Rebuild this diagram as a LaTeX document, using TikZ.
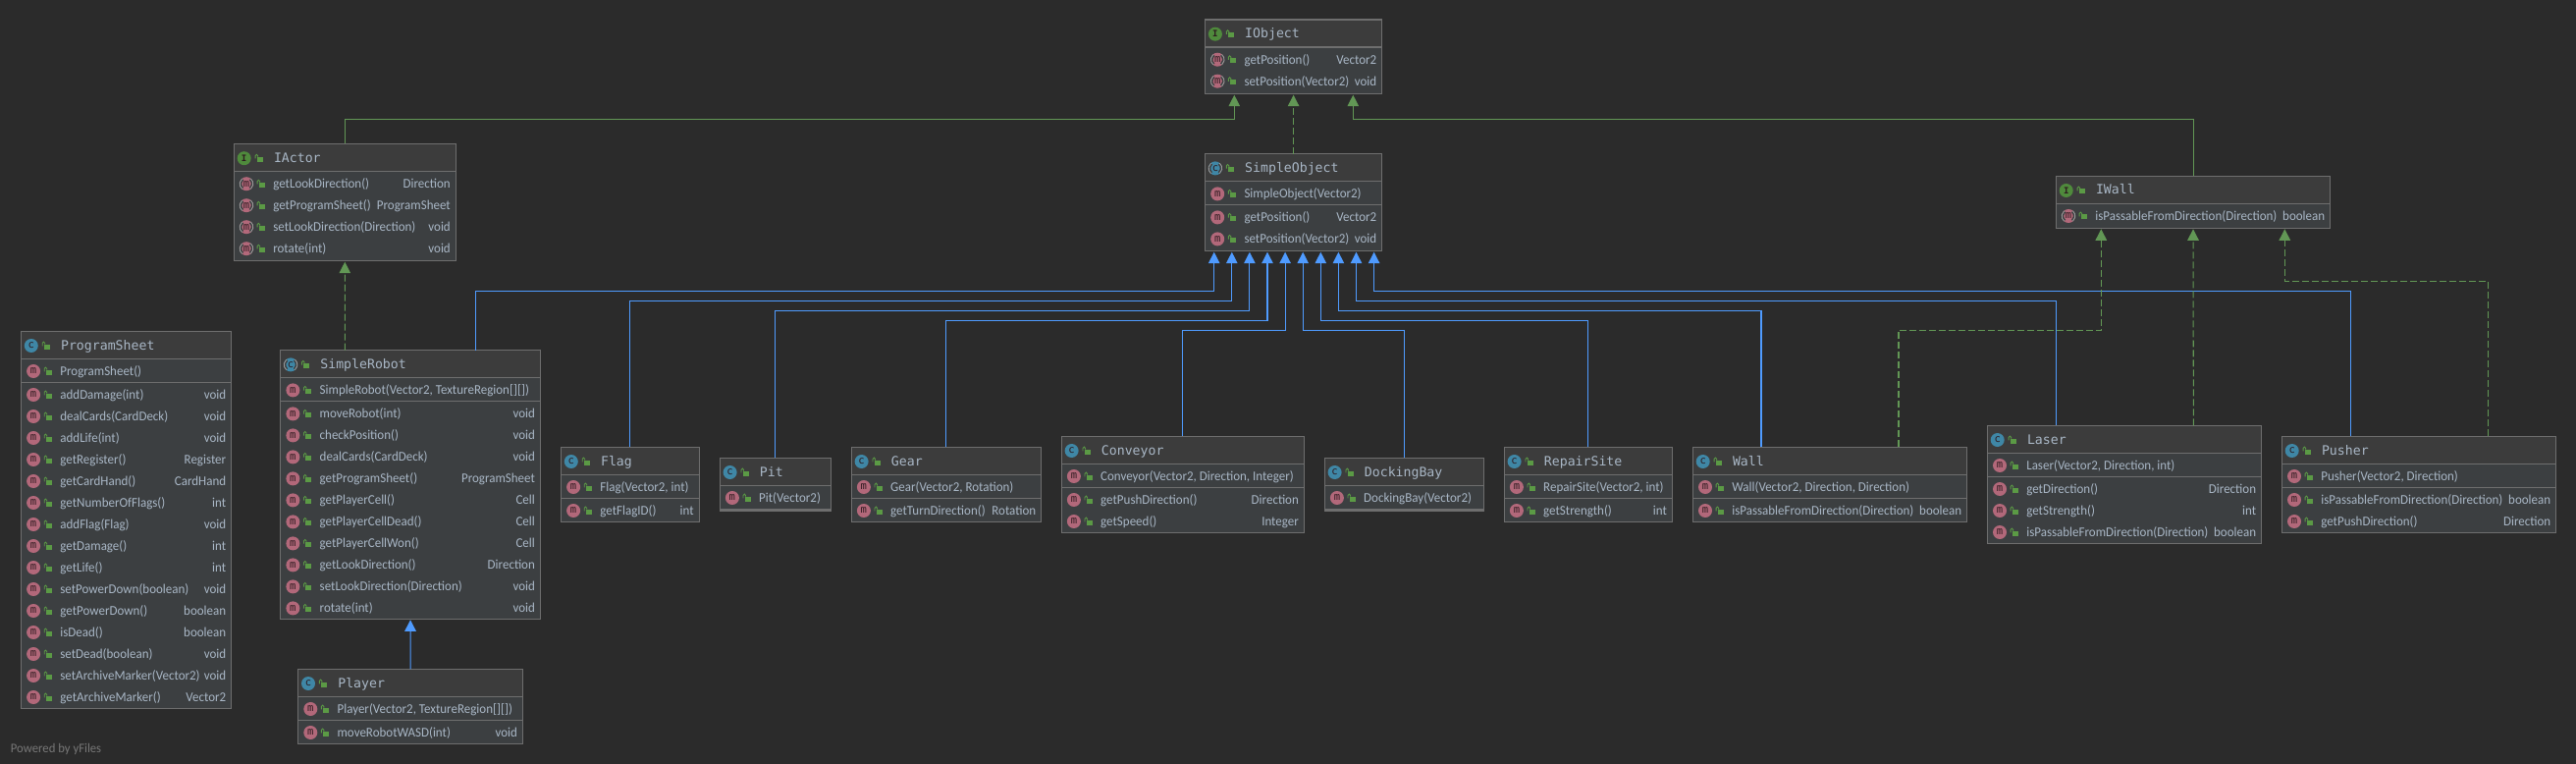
\documentclass[tikz,border=0pt]{standalone}
\usepackage{fontspec}
\setmainfont[FakeStretch=0.955]{Carlito}
\newfontfamily\titlefont{DejaVu Sans Mono}
\usetikzlibrary{arrows.meta}
\definecolor{bgc}{HTML}{2B2B2B}
\definecolor{hdrc}{HTML}{3C3C3C}
\definecolor{bodyc}{HTML}{3C3F41}
\definecolor{borderc}{HTML}{6E6E6E}
\definecolor{txtc}{HTML}{A9B7C6}
\definecolor{mc}{HTML}{B2687A}
\definecolor{cc}{HTML}{3F87A6}
\definecolor{ic}{HTML}{4F8A3C}
\definecolor{lockc}{HTML}{5B9A45}
\definecolor{bluec}{HTML}{4F9BFF}
\definecolor{greenc}{HTML}{629755}
\definecolor{ringc}{HTML}{9A9A9A}
\newcounter{tn}
\tikzset{
  umlbody/.style={rectangle,draw=borderc,fill=bodyc,line width=1.2pt,inner sep=0pt,outer sep=0pt},
  hdr/.style={fill=hdrc},
  sepl/.style={draw=borderc,line width=1.1pt},
  mtext/.style={text=txtc,font=\fontsize{13.6}{15}\selectfont,inner sep=0pt,outer sep=0pt},
  ttext/.style={text=txtc,font=\titlefont\fontsize{13.2}{15}\selectfont,inner sep=0pt,outer sep=0pt,anchor=base west},
  iconbase/.style={circle,minimum size=14pt,inner sep=0pt,outer sep=0pt,text=black!75!mc,font=\titlefont\fontsize{10.5}{10}\selectfont},
  iconm/.style={iconbase,fill=mc},
  iconc/.style={iconbase,fill=cc},
  iconi/.style={iconbase,fill=ic,font=\titlefont\bfseries\fontsize{9}{9}\selectfont},
  inh/.style={draw=bluec,line width=1.05pt,-{Triangle[length=11.5pt,width=11.5pt,fill=bluec]}},
  impl/.style={draw=greenc,line width=1.05pt,-{Triangle[length=11.5pt,width=11.5pt,fill=greenc]}},
  impld/.style={impl,dash pattern=on 7pt off 3pt},
}
\newcommand{\lockat}[2]{%
  \begin{scope}[shift={(#1,#2)}]
    \fill[lockc] (-2.7,-1.5) rectangle (3.3,3.5);
    \draw[lockc,line width=.9pt] (-4.2,0.3) -- (-4.2,-2.6) .. controls (-4.2,-4.3) and (-1.7,-4.3) .. (-1.7,-2.6) -- (-1.7,-1.5);
  \end{scope}}
\newcommand{\ringat}[2]{%
  \begin{scope}[shift={(#1,#2)}]
    \draw[bodyc,line width=2.2pt] (130:5.9) arc[start angle=130,end angle=230,radius=5.9];
    \draw[bodyc,line width=2.2pt] (-50:5.9) arc[start angle=-50,end angle=50,radius=5.9];
    \draw[ringc,line width=.9pt] (130:6.8) arc[start angle=130,end angle=230,radius=6.8];
    \draw[ringc,line width=.9pt] (-50:6.8) arc[start angle=-50,end angle=50,radius=6.8];
  \end{scope}}
% name, kind (c, a, I), left, top, right, bottom, title
\newcommand{\umlbox}[7]{%
  \def\curname{#1}\def\curkind{#2}\def\curL{#3}\def\curR{#5}%
  \pgfmathsetmacro{\curW}{#5-#3}\pgfmathsetmacro{\curH}{#6-#4}%
  \pgfmathsetmacro{\curCx}{(#3+#5)/2}\pgfmathsetmacro{\curCy}{(#4+#6)/2}%
  \node[umlbody,minimum width=\curW pt,minimum height=\curH pt] (#1) at (\curCx,\curCy) {};
  \fill[hdr] ([xshift=.6pt,yshift=-.6pt]#1.north west) rectangle ([xshift=-.6pt,yshift=-28pt]#1.north east);
  \draw[sepl] ([yshift=-28pt]#1.north west) -- ([yshift=-28pt]#1.north east);
  \pgfmathsetmacro{\curY}{#4+28}%
  \pgfmathsetmacro{\ix}{#3+10.4}\pgfmathsetmacro{\iy}{#4+14.7}%
  \pgfmathsetmacro{\lx}{#3+26}\pgfmathsetmacro{\tx}{#3+40.7}\pgfmathsetmacro{\ty}{#4+18.7}%
  \if #2I
    \node[iconi] (#1-icon) at (\ix,\iy) {I};
  \else
    \node[iconc] (#1-icon) at (\ix,\iy) {c};
    \if #2a \ringat{\ix}{\iy}\fi
  \fi
  \lockat{\lx}{\iy}
  \node[ttext] (#1-title) at (\tx,\ty) {#7};
}
\newcommand{\rowicons}{%
  \stepcounter{tn}%
  \pgfmathsetmacro{\rc}{\curY+12.7}\pgfmathsetmacro{\rb}{\rc+4.5}%
  \pgfmathsetmacro{\mx}{\curL+12.7}\pgfmathsetmacro{\lx}{\curL+28}%
  \pgfmathsetmacro{\tx}{\curL+40}\pgfmathsetmacro{\rx}{\curR-5.5}%
  \node[iconm] (\curname-m\arabic{tn}) at (\mx,\rc) {m};
  \if \curkind I \ringat{\mx}{\rc}\fi
  \lockat{\lx}{\rc}
}
\newcommand{\ctor}[1]{%
  \rowicons
  \node[mtext,anchor=base west] (\curname-t\arabic{tn}) at (\tx,\rb) {#1};
  \pgfmathsetmacro{\curY}{\curY+24}%
  \draw[sepl] (\curL,\curY) -- (\curR,\curY);
}
\newcommand{\method}[2]{%
  \rowicons
  \node[mtext,anchor=base west] (\curname-t\arabic{tn}) at (\tx,\rb) {#1};
  \node[mtext,anchor=base east] (\curname-r\arabic{tn}) at (\rx,\rb) {#2};
  \pgfmathsetmacro{\curY}{\curY+22}%
}
% style, source, y of the horizontal run, target
\newcommand{\conn}[4]{%
  \coordinate (s) at (#2);\coordinate (e) at (#4);
  \draw[#1] (s) -- (s |- 0,#3) -- (e |- 0,#3) -- (e);
}
\begin{document}
\begin{tikzpicture}[x=1pt,y=-1pt]
\useasboundingbox (0,0) rectangle (2624,778);
\fill[bgc] (0,0) rectangle (2624,778);

\umlbox{iobject}{I}{1227.5}{20}{1407.7}{95.7}{IObject}
\method{getPosition()}{Vector2}
\method{setPosition(Vector2)}{void}

\umlbox{so}{a}{1227.5}{156.7}{1407.7}{255.7}{SimpleObject}
\ctor{SimpleObject(Vector2)}
\method{getPosition()}{Vector2}
\method{setPosition(Vector2)}{void}

\umlbox{iactor}{I}{238.3}{146.5}{464.3}{265.7}{IActor}
\method{getLookDirection()}{Direction}
\method{getProgramSheet()}{ProgramSheet}
\method{setLookDirection(Direction)}{void}
\method{rotate(int)}{void}

\umlbox{iwall}{I}{2094.3}{179.3}{2373.7}{232.3}{IWall}
\method{isPassableFromDirection(Direction)}{boolean}

\umlbox{sheet}{c}{21.4}{337.3}{235.7}{721.7}{ProgramSheet}
\ctor{ProgramSheet()}
\method{addDamage(int)}{void}
\method{dealCards(CardDeck)}{void}
\method{addLife(int)}{void}
\method{getRegister()}{Register}
\method{getCardHand()}{CardHand}
\method{getNumberOfFlags()}{int}
\method{addFlag(Flag)}{void}
\method{getDamage()}{int}
\method{getLife()}{int}
\method{setPowerDown(boolean)}{void}
\method{getPowerDown()}{boolean}
\method{isDead()}{boolean}
\method{setDead(boolean)}{void}
\method{setArchiveMarker(Vector2)}{void}
\method{getArchiveMarker()}{Vector2}

\umlbox{robot}{a}{285.7}{356.7}{550.4}{630.3}{SimpleRobot}
\ctor{SimpleRobot(Vector2, TextureRegion[][])}
\method{moveRobot(int)}{void}
\method{checkPosition()}{void}
\method{dealCards(CardDeck)}{void}
\method{getProgramSheet()}{ProgramSheet}
\method{getPlayerCell()}{Cell}
\method{getPlayerCellDead()}{Cell}
\method{getPlayerCellWon()}{Cell}
\method{getLookDirection()}{Direction}
\method{setLookDirection(Direction)}{void}
\method{rotate(int)}{void}

\umlbox{player}{c}{303.6}{681.3}{532.5}{757.3}{Player}
\ctor{Player(Vector2, TextureRegion[][])}
\method{moveRobotWASD(int)}{void}

\umlbox{flag}{c}{571.4}{455.3}{712.2}{531.7}{Flag}
\ctor{Flag(Vector2, int)}
\method{getFlagID()}{int}

\umlbox{pit}{c}{733.2}{466.3}{846.5}{520}{Pit}
\ctor{Pit(Vector2)}

\umlbox{gear}{c}{867.2}{455.3}{1060.7}{531.7}{Gear}
\ctor{Gear(Vector2, Rotation)}
\method{getTurnDirection()}{Rotation}

\umlbox{conveyor}{c}{1081.2}{444.3}{1328.4}{542.7}{Conveyor}
\ctor{Conveyor(Vector2, Direction, Integer)}
\method{getPushDirection()}{Direction}
\method{getSpeed()}{Integer}

\umlbox{dock}{c}{1349.2}{466.3}{1511.4}{520}{DockingBay}
\ctor{DockingBay(Vector2)}

\umlbox{repair}{c}{1532.2}{455.3}{1703.5}{531.7}{RepairSite}
\ctor{RepairSite(Vector2, int)}
\method{getStrength()}{int}

\umlbox{wall}{c}{1724.3}{455.3}{2003.7}{531.3}{Wall}
\ctor{Wall(Vector2, Direction, Direction)}
\method{isPassableFromDirection(Direction)}{boolean}

\umlbox{laser}{c}{2024.3}{433.3}{2303.6}{553.7}{Laser}
\ctor{Laser(Vector2, Direction, int)}
\method{getDirection()}{Direction}
\method{getStrength()}{int}
\method{isPassableFromDirection(Direction)}{boolean}

\umlbox{pusher}{c}{2324.3}{444.3}{2603.7}{542.3}{Pusher}
\ctor{Pusher(Vector2, Direction)}
\method{isPassableFromDirection(Direction)}{boolean}
\method{getPushDirection()}{Direction}

\node[text=white!36!bgc,font=\fontsize{13.3}{15}\selectfont,inner sep=0pt,anchor=base west] (powered) at (10.7,766) {Powered by yFiles};

% inheritance from SimpleObject
\conn{inh}{[xshift=66.7pt]robot.north}{296.3}{[xshift=-80.9pt,yshift=-1pt]so.south}
\conn{inh}{flag.north}{306.3}{[xshift=-62.8pt,yshift=-1pt]so.south}
\conn{inh}{pit.north}{316.3}{[xshift=-44.7pt,yshift=-1pt]so.south}
\conn{inh}{gear.north}{326.3}{[xshift=-26.6pt,yshift=-1pt]so.south}
\conn{inh}{conveyor.north}{336.3}{[xshift=-8.5pt,yshift=-1pt]so.south}
\conn{inh}{dock.north}{336.3}{[xshift=9.6pt,yshift=-1pt]so.south}
\conn{inh}{repair.north}{326.3}{[xshift=27.7pt,yshift=-1pt]so.south}
\conn{inh}{[xshift=-70pt]wall.north}{316.3}{[xshift=45.8pt,yshift=-1pt]so.south}
\conn{inh}{[xshift=-69.6pt]laser.north}{306.3}{[xshift=63.9pt,yshift=-1pt]so.south}
\conn{inh}{[xshift=-70pt]pusher.north}{296.3}{[xshift=82pt,yshift=-1pt]so.south}
\draw[inh] (player.north) -- ([yshift=-1pt]robot.south);

% interfaces
\conn{impl}{iactor.north}{121.7}{[xshift=-60.3pt,yshift=-1pt]iobject.south}
\conn{impl}{iwall.north}{121.7}{[xshift=60.7pt,yshift=-1pt]iobject.south}
\draw[impld] (so.north) -- ([yshift=-1pt]iobject.south);
\draw[impld] ([xshift=-66.7pt]robot.north) -- ([yshift=-1pt]iactor.south);
\conn{impld}{[xshift=70pt]wall.north}{336.3}{[xshift=-93.7pt,yshift=-1pt]iwall.south}
\draw[impld] ([xshift=70.4pt]laser.north) -- ([yshift=-1pt]iwall.south);
\conn{impld}{[xshift=70pt]pusher.north}{286.3}{[xshift=93.3pt,yshift=-1pt]iwall.south}
\end{tikzpicture}
\end{document}
